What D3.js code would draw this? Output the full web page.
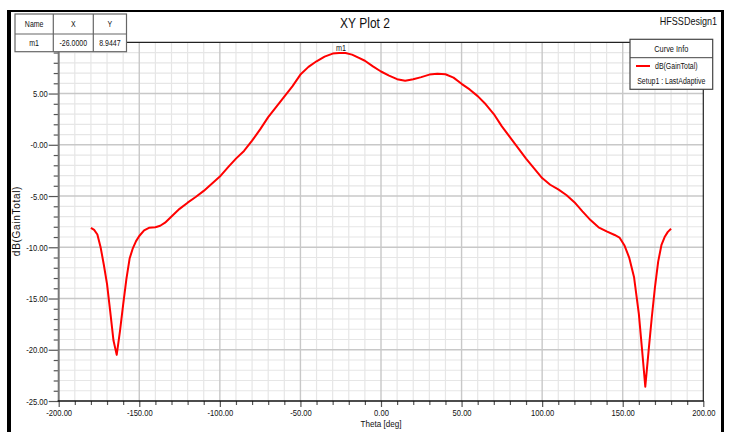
<!DOCTYPE html>
<html>
<head>
<meta charset="utf-8">
<script src="https://cdn.jsdelivr.net/npm/d3@7"></script>
<style>
  body { margin: 0; background: #fff; }
  svg { display: block; }
  text { font-family: 'Liberation Sans', Arial, sans-serif; fill: #111; }
</style>
</head>
<body>
<div class="graph"></div>
<script>
// gain pattern
const thetaDeg = [-180, -178, -176, -174, -172, -170, -168, -166, -164, -162, -160, -158, -156, -154, -152, -150,
    -147, -144, -140, -137, -134, -130, -125, -120, -115, -110, -105, -100, -95, -90, -85, -80, -75, -70, -65, -60,
    -55, -50, -45, -40, -35, -30, -26, -22, -18, -14, -10, -5, 0, 5, 10, 15, 20, 25, 30, 35, 40, 45, 50, 55, 60,
    65, 70, 75, 80, 85, 90, 95, 100, 105, 110, 115, 120, 125, 130, 135, 140, 145, 148, 151, 154, 157, 160, 162,
    164, 166, 168, 170, 172, 174, 176, 178, 180];
const gainDb = [-8.1, -8.3, -8.75, -10.0, -11.7, -13.6, -16.3, -19.1, -20.5, -18.2, -15.6, -13.1, -11.1, -10.1, -9.4, -8.9,
    -8.35, -8.1, -8.05, -7.9, -7.6, -7.0, -6.25, -5.65, -5.1, -4.5, -3.8, -3.1, -2.2, -1.35, -0.6, 0.4, 1.5, 2.7, 3.7, 4.7,
    5.7, 6.85, 7.6, 8.15, 8.6, 8.9, 8.9447, 8.95, 8.8, 8.5, 8.2, 7.65, 7.15, 6.75, 6.4, 6.25, 6.4, 6.6, 6.85, 6.92, 6.88, 6.55, 5.95, 5.4, 4.75,
    3.95, 3.0, 1.8, 0.75, -0.3, -1.35, -2.3, -3.25, -3.9, -4.35, -4.9, -5.6, -6.5, -7.35, -8.05, -8.45, -8.8, -9.05, -9.8, -11.0, -12.9, -16.5, -20.0,
    -23.6, -20.2, -16.9, -13.9, -11.4, -9.8, -9.0, -8.5, -8.2];

const xMajorTicks = [-200, -150, -100, -50, 0, 50, 100, 150, 200];
const xTickLabels = ["-200.00", "-150.00", "-100.00", "-50.00", "0.00", "50.00", "100.00", "150.00", "200.00"];
const yMajorTicks = [-25, -20, -15, -10, -5, 0, 5, 10];
// the 10.00 label sits behind the marker table, so it is left blank
const yTickLabels = ["-25.00", "-20.00", "-15.00", "-10.00", "-5.00", "-0.00", "5.00", ""];

const markerHeader = ["Name", "X", "Y"];
const markerRow = ["m1", "-26.0000", "8.9447"];
const markerTheta = -26;
const markerGain = 8.9447;

const legendTitle = "Curve Info";
const legendCurve = "dB(GainTotal)";
const legendSetup = "Setup1 : LastAdaptive";

const W = 729, H = 432;
const plot = { left: 58.7, right: 703.3, top: 42.3, bottom: 401 };

const svg = d3.select(".graph").append("svg")
    .attr("width", W)
    .attr("height", H);

// squeeze text horizontally, HFSS uses a narrow face
function condense(sel, k) {
    sel.each(function() {
        const len = this.getComputedTextLength();
        if (len > 0) {
            d3.select(this).attr("textLength", len * k).attr("lengthAdjust", "spacingAndGlyphs");
        }
    });
}

const x = d3.scaleLinear().domain([-200, 200]).range([plot.left, plot.right]);
const y = d3.scaleLinear().domain([-25, 10]).range([plot.bottom, plot.top]);

// minor grid
const xMinor = d3.range(-200, 201, 10).filter(d => d % 50 !== 0);
const yMinor = d3.range(-25, 11, 1).filter(d => d % 5 !== 0);

svg.append("g").selectAll("line").data(xMinor).join("line")
    .attr("x1", d => x(d)).attr("x2", d => x(d))
    .attr("y1", plot.top).attr("y2", plot.bottom)
    .attr("stroke", "#e6e6e6").attr("stroke-width", 1.2);
svg.append("g").selectAll("line").data(yMinor).join("line")
    .attr("x1", plot.left).attr("x2", plot.right)
    .attr("y1", d => y(d)).attr("y2", d => y(d))
    .attr("stroke", "#e6e6e6").attr("stroke-width", 1.2);

// major grid
svg.append("g").selectAll("line").data(xMajorTicks.slice(1, -1)).join("line")
    .attr("x1", d => x(d)).attr("x2", d => x(d))
    .attr("y1", plot.top).attr("y2", plot.bottom)
    .attr("stroke", "#c8c8c8").attr("stroke-width", 1.4);
svg.append("g").selectAll("line").data(yMajorTicks.slice(1, -1)).join("line")
    .attr("x1", plot.left).attr("x2", plot.right)
    .attr("y1", d => y(d)).attr("y2", d => y(d))
    .attr("stroke", "#c8c8c8").attr("stroke-width", 1.6);

// axes
const yAxisMinor = d3.axisLeft(y).tickValues(yMinor).tickSize(5).tickFormat("");
const yAxis = d3.axisLeft(y).tickValues(yMajorTicks).tickSize(10).tickPadding(1)
    .tickFormat((d, i) => yTickLabels[i]);
const xAxisMinor = d3.axisBottom(x).tickValues(xMinor).tickSize(4).tickFormat("");
const xAxis = d3.axisBottom(x).tickValues(xMajorTicks).tickSize(6).tickPadding(2)
    .tickFormat((d, i) => xTickLabels[i]);

function styleAxis(g) {
    g.select(".domain").remove();
    g.selectAll(".tick line").attr("stroke", "#555").attr("stroke-width", 1.2);
    g.selectAll(".tick text").attr("font-size", 9.5).attr("fill", "#222")
        .attr("font-family", "'Liberation Sans', Arial, sans-serif")
        .call(condense, 0.8);
}

svg.append("g").attr("transform", `translate(${plot.left},0)`).call(yAxisMinor).call(styleAxis);
svg.append("g").attr("transform", `translate(${plot.left},0)`).call(yAxis).call(styleAxis);
svg.append("g").attr("transform", `translate(0,${plot.bottom})`).call(xAxisMinor).call(styleAxis);
svg.append("g").attr("transform", `translate(0,${plot.bottom})`).call(xAxis).call(styleAxis);

// plot frame
svg.append("line").attr("x1", plot.left).attr("x2", plot.right).attr("y1", plot.top).attr("y2", plot.top)
    .attr("stroke", "#222").attr("stroke-width", 1.2);
svg.append("line").attr("x1", plot.right).attr("x2", plot.right).attr("y1", plot.top).attr("y2", plot.bottom)
    .attr("stroke", "#222").attr("stroke-width", 1.2);
svg.append("line").attr("x1", plot.left).attr("x2", plot.left).attr("y1", plot.top).attr("y2", plot.bottom)
    .attr("stroke", "#777").attr("stroke-width", 2);
svg.append("line").attr("x1", plot.left - 1).attr("x2", plot.right + 0.6).attr("y1", plot.bottom).attr("y2", plot.bottom)
    .attr("stroke", "#111").attr("stroke-width", 1.5);

// curve
const line = d3.line()
    .x((d, i) => x(thetaDeg[i]))
    .y(d => y(d));

svg.append("path")
    .datum(gainDb)
    .attr("d", line)
    .attr("fill", "none")
    .attr("stroke", "#ff0000")
    .attr("stroke-width", 2)
    .attr("stroke-linejoin", "round");

// marker label
svg.append("text")
    .attr("x", x(markerTheta) + 2)
    .attr("y", y(markerGain) - 2.5)
    .attr("text-anchor", "middle")
    .attr("font-size", 8.5)
    .attr("fill", "#333")
    .text("m1")
    .call(condense, 0.85);

// titles
svg.append("text").attr("x", 365).attr("y", 28).attr("text-anchor", "middle")
    .attr("font-size", 15).text("XY Plot 2").call(condense, 0.8);
svg.append("text").attr("x", 717).attr("y", 25).attr("text-anchor", "end")
    .attr("font-size", 11).text("HFSSDesign1").call(condense, 0.82);
svg.append("text").attr("x", (plot.left + plot.right) / 2).attr("y", 427).attr("text-anchor", "middle")
    .attr("font-size", 9.5).text("Theta [deg]").call(condense, 0.85);
svg.append("text")
    .attr("transform", "translate(20,221) rotate(-90)")
    .attr("text-anchor", "middle")
    .attr("font-size", 10)
    .attr("letter-spacing", 0.7)
    .attr("fill", "#222")
    .text("dB(GainTotal)");

// marker table
const table = svg.append("g");
const colX = [15, 53.3, 93.3, 126.5];
const rowY = [14, 34, 51.7];
table.append("rect").attr("x", colX[0]).attr("y", rowY[0])
    .attr("width", colX[3] - colX[0]).attr("height", rowY[2] - rowY[0])
    .attr("fill", "#fff").attr("stroke", "#666").attr("stroke-width", 1.2);
colX.slice(1, 3).forEach(cx => {
    table.append("line").attr("x1", cx).attr("x2", cx).attr("y1", rowY[0]).attr("y2", rowY[2])
        .attr("stroke", "#666").attr("stroke-width", 1.2);
});
table.append("line").attr("x1", colX[0]).attr("x2", colX[3]).attr("y1", rowY[1]).attr("y2", rowY[1])
    .attr("stroke", "#666").attr("stroke-width", 1.2);
[markerHeader, markerRow].forEach((row, r) => {
    row.forEach((t, c) => {
        table.append("text")
            .attr("x", (colX[c] + colX[c + 1]) / 2)
            .attr("y", (rowY[r] + rowY[r + 1]) / 2 + 3)
            .attr("text-anchor", "middle")
            .attr("font-size", 8.5)
            .text(t)
            .call(condense, 0.82);
    });
});

// legend
const legend = svg.append("g");
legend.append("rect").attr("x", 630).attr("y", 39.3).attr("width", 82.7).attr("height", 50)
    .attr("fill", "#fff").attr("stroke", "#444").attr("stroke-width", 1.2);
legend.append("line").attr("x1", 630).attr("x2", 712.7).attr("y1", 57.7).attr("y2", 57.7)
    .attr("stroke", "#444").attr("stroke-width", 1);
legend.append("text").attr("x", 671.3).attr("y", 51.5).attr("text-anchor", "middle")
    .attr("font-size", 9).text(legendTitle).call(condense, 0.82);
legend.append("line").attr("x1", 636).attr("x2", 650).attr("y1", 66).attr("y2", 66)
    .attr("stroke", "#ff0000").attr("stroke-width", 2);
legend.append("text").attr("x", 655).attr("y", 69).attr("font-size", 8.5).text(legendCurve).call(condense, 0.82);
legend.append("text").attr("x", 671.3).attr("y", 84).attr("text-anchor", "middle")
    .attr("font-size", 8.5).text(legendSetup).call(condense, 0.82);

// outer window frame
svg.append("rect").attr("x", 7).attr("y", 10).attr("width", 4).attr("height", H - 10).attr("fill", "#000");
svg.append("rect").attr("x", 7).attr("y", 10).attr("width", 717).attr("height", 2).attr("fill", "#000");
svg.append("rect").attr("x", 721).attr("y", 10).attr("width", 3).attr("height", H - 10).attr("fill", "#000");
</script>
</body>
</html>
